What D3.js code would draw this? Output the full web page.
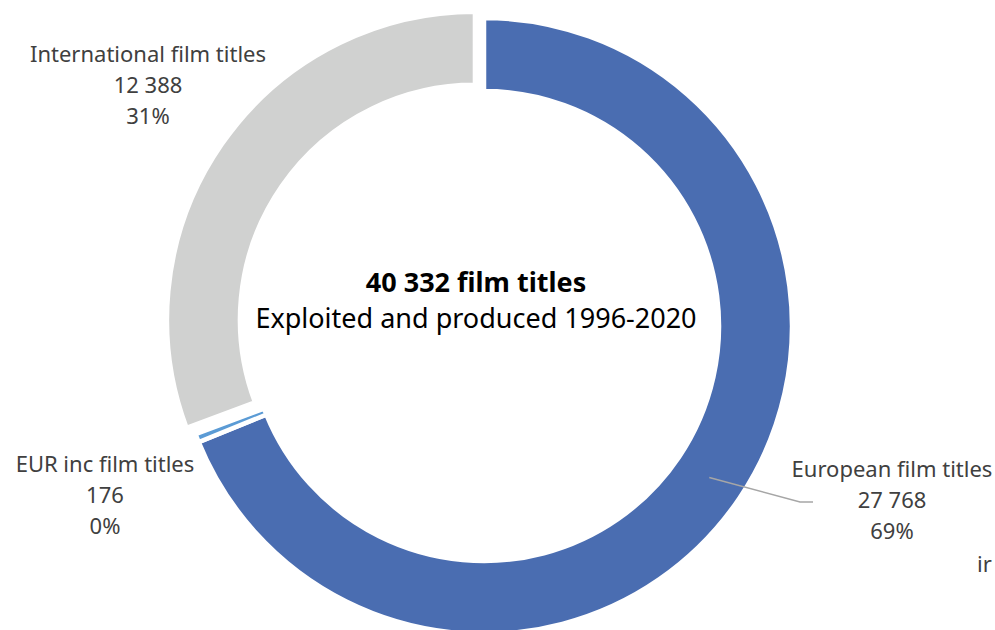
<!doctype html>
<html lang="en">
    <head>
        <meta charset="utf-8">
        <script src="https://d3js.org/d3.v7.min.js"></script>
        <style>
            body { margin: 0; background: #fff; }
            text { font-family: "Noto Sans", "Lato", sans-serif; }
        </style>
    </head>
    <body>
        <div id="my_dataviz"></div>

        <script>
            // Data
            var categories = ["European film titles", "EUR inc film titles", "International film titles"]
            var values = [27768, 176, 12388]
            var titleLine1 = "40 332 film titles"
            var titleLine2 = "Exploited and produced 1996-2020"

            // Layout
            var width = 995
            var height = 630
            var cx = 484, cy = 326
            var outerR = 308, innerR = 235
            var colors = ["#4a6db1", "#5b9bd5", "#d0d1d0"]
            var explode = [0, 0, 11]          // slice pulled out (px)
            var labelPos = [[892, 477], [105, 472], [148, 62]]

            var svg = d3.select("#my_dataviz")
                .append("svg")
                .attr("width", width)
                .attr("height", height)

            var total = d3.sum(values)
            var fmt = d3.formatLocale({decimal: ",", thousands: " ", grouping: [3], currency: ["", ""]}).format(",d")

            var pie = d3.pie().sort(null).value(function(d){ return d })
            var arc = d3.arc().innerRadius(innerR).outerRadius(outerR)
            var arcs = pie(values)

            var g = svg.append("g").attr("transform", "translate(" + cx + "," + cy + ")")

            g.selectAll("path")
                .data(arcs)
                .enter()
                .append("path")
                .attr("d", arc)
                .attr("fill", function(d, i){ return colors[i] })
                .attr("stroke", "#fff")
                .attr("stroke-width", 4.5)
                .attr("transform", function(d, i){
                    var a = (d.startAngle + d.endAngle) / 2
                    return "translate(" + (explode[i] * Math.sin(a)) + "," + (-explode[i] * Math.cos(a)) + ")"
                })

            // leader line for the European slice, from the ring centroid
            var c0 = arc.centroid(arcs[0])
            svg.append("polyline")
                .attr("points", [[cx + c0[0], cy + c0[1]], [800, 502], [813, 502]].map(function(p){ return p.join(",") }).join(" "))
                .attr("fill", "none")
                .attr("stroke", "#a6a6a6")
                .attr("stroke-width", 1.5)

            // data labels
            categories.forEach(function(c, i){
                var t = svg.append("text")
                    .attr("x", labelPos[i][0])
                    .attr("y", labelPos[i][1])
                    .attr("text-anchor", "middle")
                    .attr("fill", "#404040")
                    .style("font-size", "22px")
                var lines = [c, fmt(values[i]), Math.round(values[i] / total * 100) + "%"]
                lines.forEach(function(l, j){
                    t.append("tspan")
                        .attr("x", labelPos[i][0])
                        .attr("dy", j == 0 ? 0 : 31)
                        .text(l)
                })
            })

            // stray clipped label at the right edge
            svg.append("text")
                .attr("x", 977)
                .attr("y", 572)
                .attr("fill", "#404040")
                .style("font-size", "22px")
                .text("ir")

            // centre title
            svg.append("text")
                .attr("x", 476)
                .attr("y", 292)
                .attr("text-anchor", "middle")
                .attr("fill", "#000")
                .style("font-size", "27px")
                .style("font-weight", "bold")
                .text(titleLine1)
            svg.append("text")
                .attr("x", 476)
                .attr("y", 328)
                .attr("text-anchor", "middle")
                .attr("fill", "#000")
                .style("font-size", "27px")
                .text(titleLine2)
        </script>
    </body>
</html>
